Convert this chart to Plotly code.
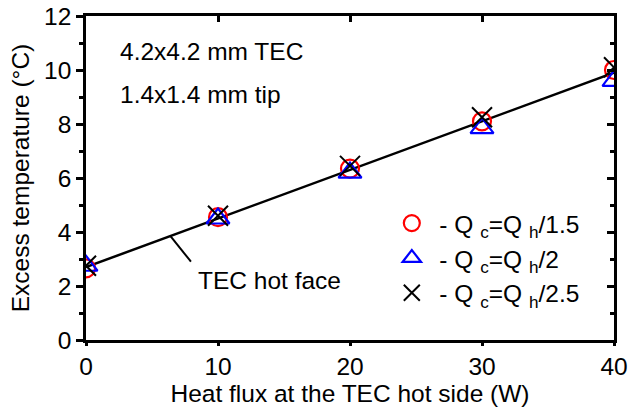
import plotly.graph_objects as go

heat_flux = [0, 10, 20, 30, 40]
temp_q15 = [2.65, 4.55, 6.35, 8.1, 10.0]
temp_q2 = [2.75, 4.5, 6.2, 7.85, 9.6]
temp_q25 = [2.75, 4.6, 6.45, 8.25, 10.1]
fit_x = [0, 40]
fit_y = [2.7, 9.9]
legend_names = ["- Q <sub>c</sub>=Q <sub>h</sub>/1.5", "- Q <sub>c</sub>=Q <sub>h</sub>/2",
                "- Q <sub>c</sub>=Q <sub>h</sub>/2.5"]

FONT = "Liberation Sans, Arial, sans-serif"
FS = 24.5

fig = go.Figure()
fig.add_trace(go.Scatter(x=fit_x, y=fit_y, mode="lines", line=dict(color="black", width=2.5),
                         showlegend=False, hoverinfo="skip"))
fig.add_trace(go.Scatter(x=heat_flux, y=temp_q15, mode="markers", name=legend_names[0],
                         marker=dict(symbol="circle-open", size=18, color="red", line=dict(width=2.2, color="red"))))
fig.add_trace(go.Scatter(x=heat_flux, y=temp_q2, mode="markers", name=legend_names[1],
                         marker=dict(symbol="triangle-up-open", size=20, color="blue", line=dict(width=2.2, color="blue"))))
fig.add_trace(go.Scatter(x=heat_flux, y=temp_q25, mode="markers", name=legend_names[2],
                         marker=dict(symbol="x-thin-open", size=20, color="black", line=dict(width=2, color="black"))))
# invisible trace to carry the mirrored (top/right) axes
fig.add_trace(go.Scatter(x=fit_x, y=fit_y, xaxis="x2", yaxis="y2", mode="lines",
                         line=dict(width=0), opacity=0, showlegend=False, hoverinfo="skip"))

# leader line for "TEC hot face"
fig.add_shape(type="line", x0=6.4, y0=3.85, x1=7.95, y1=2.9, line=dict(color="black", width=2))

fig.add_annotation(x=8.3, y=2.2, text="TEC hot face", showarrow=False, xanchor="left",
                   font=dict(family=FONT, size=FS, color="black"))
fig.add_annotation(x=2.4, y=10.7, text="4.2x4.2 mm TEC", showarrow=False, xanchor="left",
                   font=dict(family=FONT, size=FS, color="black"))
fig.add_annotation(x=2.4, y=9.1, text="1.4x1.4 mm tip", showarrow=False, xanchor="left",
                   font=dict(family=FONT, size=FS, color="black"))

axis_common = dict(showline=True, linecolor="black", linewidth=2.5, showgrid=False, zeroline=False,
                   tickcolor="black", tickwidth=2.5, automargin=False)
fig.update_layout(
    width=628, height=409,
    margin=dict(l=86, r=14, t=16, b=69),
    paper_bgcolor="white", plot_bgcolor="white",
    font=dict(family=FONT, size=FS, color="black"),
    xaxis=dict(range=[0, 40], tickvals=[0, 10, 20, 30, 40], ticks="outside", ticklen=3,
               title=dict(text="Heat flux at the TEC hot side (W)", standoff=2,
                          font=dict(family=FONT, size=FS)),
               tickfont=dict(family=FONT, size=FS), **axis_common),
    yaxis=dict(range=[0, 12], tickvals=[0, 2, 4, 6, 8, 10, 12], ticks="outside", ticklen=7,
               minor=dict(tickvals=[1, 3, 5, 7, 9, 11], ticks="outside", ticklen=4, tickcolor="black", tickwidth=2.5),
               title=dict(text="Excess temperature (°C)", standoff=8, font=dict(family=FONT, size=FS)),
               tickfont=dict(family=FONT, size=FS), **axis_common),
    xaxis2=dict(range=[0, 40], overlaying="x", side="top", tickvals=[0, 10, 20, 30, 40], ticks="inside",
                ticklen=6, showticklabels=False, **axis_common),
    yaxis2=dict(range=[0, 12], overlaying="y", side="right", tickvals=[0, 2, 4, 6, 8, 10, 12], ticks="inside",
                ticklen=7, showticklabels=False,
                minor=dict(tickvals=[1, 3, 5, 7, 9, 11], ticks="inside", ticklen=4, tickcolor="black", tickwidth=2.5),
                **axis_common),
    legend=dict(x=0.565, y=0.43, xanchor="left", yanchor="top", bgcolor="rgba(0,0,0,0)",
                font=dict(family=FONT, size=FS), tracegroupgap=0, itemwidth=45),
    showlegend=True,
)

fig.write_html("out.html")
